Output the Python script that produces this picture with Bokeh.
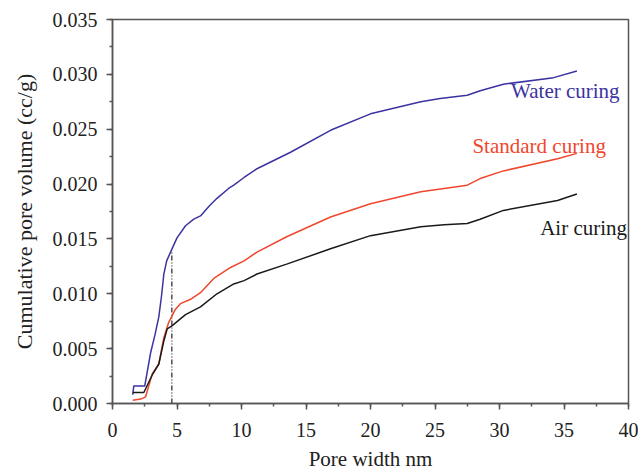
from bokeh.plotting import figure
from bokeh.models import SingleIntervalTicker, NumeralTickFormatter, Range1d, Label
from bokeh.embed import file_html
from bokeh.resources import INLINE

water_x = [1.57, 1.65, 2.5, 2.95, 3.3, 3.59, 3.8, 3.98, 4.2, 4.5, 5.0, 5.66, 6.3, 6.82, 7.5, 8.1, 9.0, 9.4, 10.2, 11.2, 13.8, 16.9, 20.0, 23.9, 25.4, 27.5, 28.5, 30.3, 34.2, 36.0]
water_y = [0.0008, 0.0016, 0.0016, 0.0046, 0.0063, 0.0079, 0.0098, 0.0118, 0.0130, 0.0138, 0.0151, 0.0162, 0.0168, 0.0171, 0.0180, 0.0187, 0.0196, 0.0199, 0.0206, 0.0214, 0.0229, 0.0249, 0.0264, 0.0275, 0.0278, 0.0281, 0.0285, 0.0291, 0.0297, 0.0303]

standard_x = [1.57, 2.2, 2.56, 3.08, 3.59, 3.98, 4.36, 4.88, 5.27, 6.05, 6.82, 7.85, 9.15, 10.2, 11.2, 13.5, 16.9, 20.0, 23.9, 25.7, 27.5, 28.5, 30.3, 34.5, 36.0]
standard_y = [0.0003, 0.0004, 0.0006, 0.0027, 0.0036, 0.0060, 0.0074, 0.0086, 0.0091, 0.0095, 0.0101, 0.0114, 0.0124, 0.0130, 0.0138, 0.0152, 0.0170, 0.0182, 0.0193, 0.0196, 0.0199, 0.0205, 0.0212, 0.0223, 0.0228]

air_x = [1.57, 2.43, 3.08, 3.59, 3.98, 4.24, 4.63, 5.66, 6.82, 8.1, 9.4, 10.2, 11.2, 13.5, 16.9, 20.0, 23.9, 25.7, 27.5, 28.5, 30.3, 34.5, 36.0]
air_y = [0.0010, 0.0010, 0.0026, 0.0036, 0.0057, 0.0068, 0.0071, 0.0081, 0.0088, 0.0100, 0.0109, 0.0112, 0.0118, 0.0127, 0.0141, 0.0153, 0.0161, 0.0163, 0.0164, 0.0168, 0.0176, 0.0185, 0.0191]

marker_x = [4.6, 4.6]
marker_y = [0.0, 0.0138]

series_names = ["Water curing", "Standard curing", "Air curing"]
label_x = [30.9, 27.9, 33.15]
label_y = [0.0285, 0.0235, 0.0160]

BLUE = "#3b33a0"
RED = "#f0462d"
BLACK = "#1a1a1a"
AXIS = "#555555"
FONT = "Liberation Serif"

p = figure(width=638, height=473, output_backend="svg", toolbar_location=None,
           x_range=Range1d(0, 40), y_range=Range1d(0, 0.035),
           min_border_left=112, min_border_right=10, min_border_top=19, min_border_bottom=70)
p.background_fill_color = "white"
p.border_fill_color = "white"
p.outline_line_color = AXIS
p.outline_line_width = 1.5
p.grid.visible = False

p.xaxis.ticker = SingleIntervalTicker(interval=5, num_minor_ticks=2)
p.yaxis.ticker = SingleIntervalTicker(interval=0.005, num_minor_ticks=2)
p.yaxis.formatter = NumeralTickFormatter(format="0.000")

for ax in (p.xaxis[0], p.yaxis[0]):
    ax.axis_line_color = AXIS
    ax.axis_line_width = 1.5
    ax.major_tick_line_color = AXIS
    ax.minor_tick_line_color = AXIS
    ax.major_tick_line_width = 1.5
    ax.minor_tick_line_width = 1.5
    ax.major_tick_in = 0
    ax.major_tick_out = 6
    ax.minor_tick_in = 0
    ax.minor_tick_out = 3
    ax.major_label_text_font = FONT
    ax.major_label_text_font_size = "20px"
    ax.major_label_text_color = "#222222"
    ax.axis_label_text_font = FONT
    ax.axis_label_text_font_style = "normal"
    ax.axis_label_text_color = "#222222"

p.xaxis.axis_label_text_font_size = "21px"
p.yaxis.axis_label_text_font_size = "22px"
p.xaxis.axis_label = "Pore width nm"
p.yaxis.axis_label = "Cumulative pore volume (cc/g)"
p.xaxis.major_label_standoff = 13
p.yaxis.major_label_standoff = 9
p.xaxis.axis_label_standoff = 7
p.yaxis.axis_label_standoff = 13

p.line(marker_x, marker_y, line_color="#333333", line_width=1.3, line_dash="5 2 1 2 1 2")
p.line(water_x, water_y, line_color=BLUE, line_width=1.5)
p.line(standard_x, standard_y, line_color=RED, line_width=1.5)
p.line(air_x, air_y, line_color=BLACK, line_width=1.5)

for name, lx, ly, col in zip(series_names, label_x, label_y, [BLUE, RED, BLACK]):
    p.add_layout(Label(x=lx, y=ly, text=name, text_font=FONT, text_font_size="21px",
                       text_color=col, text_baseline="middle", text_align="left"))

open("out.html", "w").write(file_html(p, INLINE))
